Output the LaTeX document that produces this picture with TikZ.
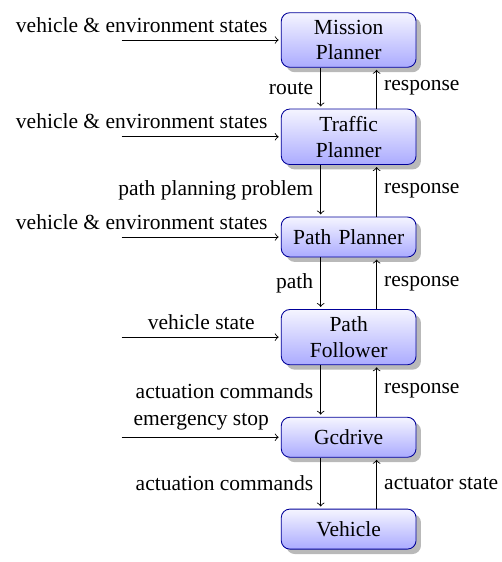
\documentclass[tikz,border=0pt]{standalone}
\usepackage{fontspec}
\setmainfont{Liberation Serif}
\usetikzlibrary{positioning,shadows}

\begin{document}
\begin{tikzpicture}[
        shorten >=1pt,
        block/.style={draw=blue!60!black, align=center, text width=56pt, minimum height=18.6pt,
          rounded corners, top color=blue!4, bottom color=blue!33,
          drop shadow={fill=black!55, opacity=0.5}},
        node distance=24pt
      ]

      \useasboundingbox (0,0) rectangle (233pt,-261.3pt);

      \node (mp) [block] at (162.1pt,-18.6pt) {Mission\\Planner};
      \node (tp) [block, node distance=19pt, below=of mp] {Traffic\\Planner};
      \node (pp) [block, below=of tp] {Path Planner};
      \node (pf) [block, below=of pp] {Path\\Follower};
      \node (gc) [block, below=of pf] {Gcdrive};
      \node (vh) [block, node distance=23.7pt, below=of gc] {Vehicle};

      \coordinate (imp) at ([xshift=-74pt]mp.west);
      \coordinate (itp) at ([xshift=-74pt]tp.west);
      \coordinate (ipp) at ([xshift=-74pt]pp.west);
      \coordinate (ipf) at ([xshift=-74pt]pf.west);
      \coordinate (igc) at ([xshift=-74pt]gc.west);

      \path[->] (imp) edge node[above left, pos=1, xshift=-2.7pt] {vehicle \& environment states} (mp.west);
      \path[->] (itp) edge node[above left, pos=1, xshift=-2.7pt] {vehicle \& environment states} (tp.west);
      \path[->] (ipp) edge node[above left, pos=1, xshift=-2.7pt] {vehicle \& environment states} (pp.west);
      \path[->] (ipf) edge node[above] {vehicle state} (pf.west);
      \path[->] (igc) edge node[above] {emergency stop} (gc.west);

      \path[->] ([xshift=-13pt]mp.south) edge node[left] {route} ([xshift=-13pt]tp.north);
      \path[->] ([xshift=-13pt]tp.south) edge node[left] {path planning problem} ([xshift=-13pt]pp.north);
      \path[->] ([xshift=-13pt]pp.south) edge node[left] {path} ([xshift=-13pt]pf.north);
      \path[->] ([xshift=-13pt]pf.south) edge node[left] {actuation commands} ([xshift=-13pt]gc.north);
      \path[->] ([xshift=-13pt]gc.south) edge node[left] {actuation commands} ([xshift=-13pt]vh.north);

      \path[->] ([xshift=13pt]tp.north) edge node[right] {response} ([xshift=13pt]mp.south);
      \path[->] ([xshift=13pt]pp.north) edge node[right] {response} ([xshift=13pt]tp.south);
      \path[->] ([xshift=13pt]pf.north) edge node[right] {response} ([xshift=13pt]pp.south);
      \path[->] ([xshift=13pt]gc.north) edge node[right] {response} ([xshift=13pt]pf.south);
      \path[->] ([xshift=13pt]vh.north) edge node[right] {actuator state} ([xshift=13pt]gc.south);

    \end{tikzpicture}
\end{document}
